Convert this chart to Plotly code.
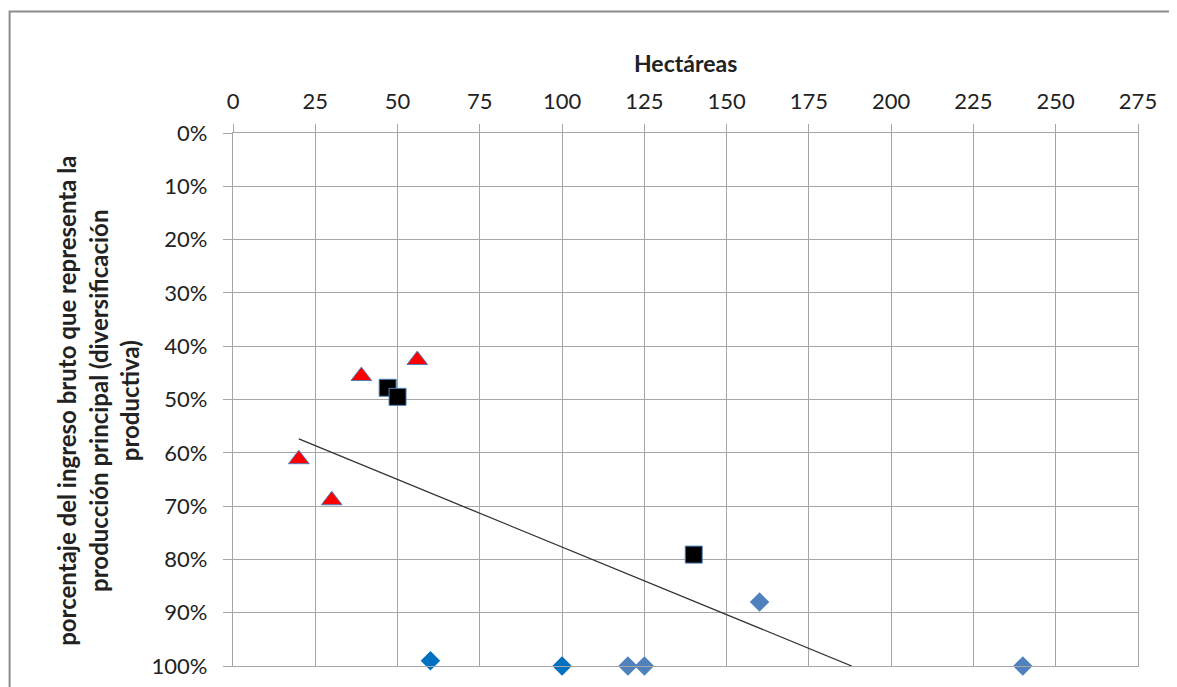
import plotly.graph_objects as go

# Data
tri_x = [20, 30, 39, 56]
tri_y = [0.612, 0.689, 0.456, 0.426]
sq_x = [47, 50, 140]
sq_y = [0.478, 0.495, 0.791]
dia_dark_x = [60, 100]
dia_dark_y = [0.990, 1.000]
dia_x = [120, 125, 160, 240]
dia_y = [1.000, 1.000, 0.880, 1.000]
trend_x = [20, 188]
trend_y = [0.574, 1.000]

x_ticks = list(range(0, 276, 25))
y_ticks = [i / 10 for i in range(0, 11)]

FONT = "Lato"
TXT = "#222222"
GRID = "#A6A6A6"

fig = go.Figure()
fig.add_trace(go.Scatter(x=trend_x, y=trend_y, mode="lines",
                         line=dict(color="#333333", width=1.3),
                         showlegend=False, hoverinfo="skip"))
fig.add_trace(go.Scatter(x=dia_dark_x, y=dia_dark_y, mode="markers", cliponaxis=False,
                         marker=dict(symbol="diamond", size=15, color="#0070C0",
                                     line=dict(width=0)), showlegend=False))
fig.add_trace(go.Scatter(x=dia_x, y=dia_y, mode="markers", cliponaxis=False,
                         marker=dict(symbol="diamond", size=15, color="#4F81BD",
                                     line=dict(width=0)), showlegend=False))
fig.add_trace(go.Scatter(x=tri_x, y=tri_y, mode="markers", cliponaxis=False,
                         marker=dict(symbol="triangle-up", size=18, color="#FF0000",
                                     line=dict(color="#4F81BD", width=1)), showlegend=False))
fig.add_trace(go.Scatter(x=sq_x, y=sq_y, mode="markers", cliponaxis=False,
                         marker=dict(symbol="square", size=17, color="#000000",
                                     line=dict(color="#4F81BD", width=1)), showlegend=False))

# page body has an 8px margin, so margins are offset by 8
OFF = 8
W, H = 1177, 687
PL, PR, PT, PB = 232.5, 1138, 132.5, 666  # target plot box in page pixels
pw = PR - PL
ph = PB - PT
L = PL - OFF
T = PT - OFF
R = W - L - pw
B = H - T - ph

def px(xp):
    return (xp - PL) / pw

def py(yp):
    return (PB - yp) / ph

fig.update_layout(
    width=W, height=H,
    margin=dict(l=L, r=R, t=T, b=B, autoexpand=False),
    paper_bgcolor="white", plot_bgcolor="white",
    font=dict(family=FONT, size=22, color=TXT),
    xaxis=dict(side="top", range=[0, 275], tickvals=x_ticks,
               ticktext=[str(v) for v in x_ticks],
               showgrid=True, gridcolor=GRID, gridwidth=1.2,
               showline=True, linecolor=GRID, linewidth=1.2, mirror=True,
               ticks="outside", ticklen=8, tickcolor=GRID, tickwidth=1.2,
               ticklabelstandoff=6,
               zeroline=False, tickfont=dict(family=FONT, size=22, color=TXT)),
    yaxis=dict(range=[1.0, 0.0], tickvals=y_ticks,
               ticktext=[f"{int(round(v*100))}%" for v in y_ticks],
               showgrid=True, gridcolor=GRID, gridwidth=1.2,
               showline=True, linecolor=GRID, linewidth=1.2, mirror=True,
               ticks="outside", ticklen=9, tickcolor=GRID, tickwidth=1.2,
               ticklabelstandoff=11,
               zeroline=False, tickfont=dict(family=FONT, size=22, color=TXT)),
    annotations=[
        dict(text="<b>Hectáreas</b>", xref="paper", yref="paper",
             x=0.5, y=py(62), xanchor="center", yanchor="middle",
             showarrow=False, font=dict(family=FONT, size=23, color=TXT)),
        dict(text="<b>porcentaje del ingreso bruto que representa la<br>"
                  "producción principal (diversificación<br>productiva)</b>",
             xref="paper", yref="paper", x=px(97), y=py(401),
             xanchor="center", yanchor="middle", textangle=-90,
             showarrow=False, align="center",
             font=dict(family=FONT, size=24, color=TXT)),
    ],
    shapes=[
        dict(type="rect", xref="paper", yref="paper",
             x0=px(9), x1=px(1200), y0=py(11), y1=py(710),
             line=dict(color="#8C8C8C", width=2), fillcolor="rgba(0,0,0,0)",
             layer="below"),
    ],
)

fig.write_html("out.html")
